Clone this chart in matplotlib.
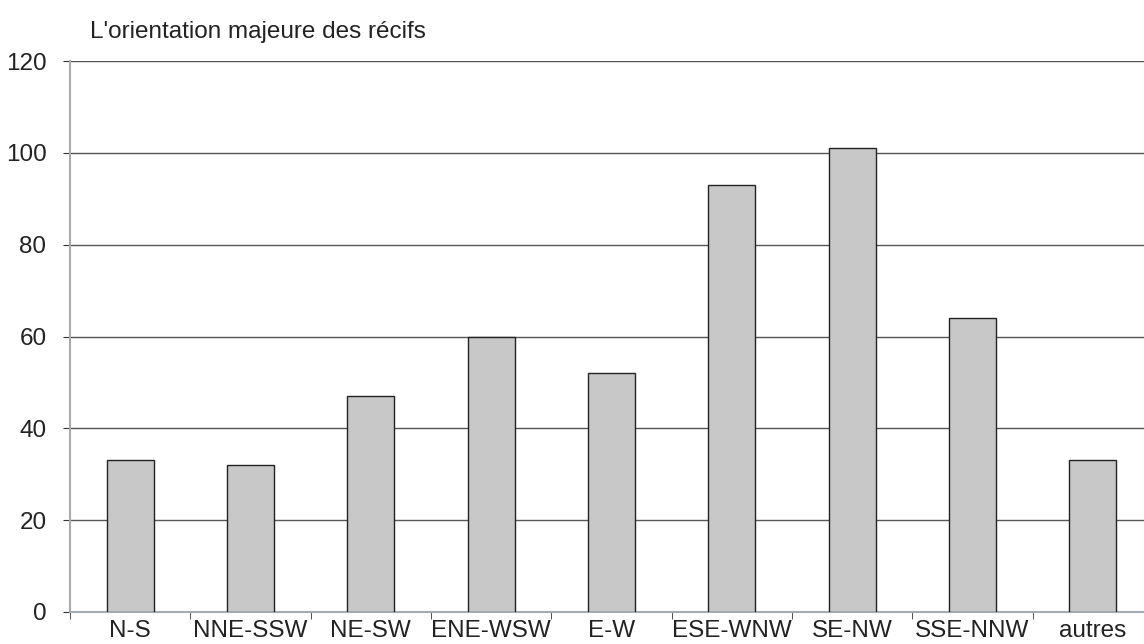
import numpy as np
import matplotlib as mpl

mpl.use("Agg")
import matplotlib.pyplot as plt

categories = ["N-S", "NNE-SSW", "NE-SW", "ENE-WSW", "E-W",
              "ESE-WNW", "SE-NW", "SSE-NNW", "autres"]
counts = [33, 32, 47, 60, 52, 93, 101, 64, 33]
y_ticks = [0, 20, 40, 60, 80, 100, 120]

W, H = 1144, 644
fig = plt.figure(figsize=(W / 100, H / 100), dpi=100)
plt.rcParams["font.family"] = ["Liberation Sans", "DejaVu Sans"]

# axes: left 70px, bottom 612px, top 61px, right edge runs off the canvas
left, right, top, bottom = 70, 1153, 61, 612
ax = fig.add_axes([left / W, (H - bottom) / H, (right - left) / W, (bottom - top) / H])

x = np.arange(len(categories))
ax.bar(x, counts, width=0.39, color="#c8c8c8", edgecolor="#222222",
       linewidth=1.0, zorder=3)

fs = 17.5
ax.set_xlim(-0.5, len(categories) - 0.5)
ax.set_ylim(0, 120)
ax.set_yticks(y_ticks)
ax.set_yticklabels([str(v) for v in y_ticks], fontsize=fs, color="#222222")
ax.yaxis.grid(True, color="#555555", linewidth=1.0, zorder=0)

ax.set_xticks(x)
ax.set_xticklabels(categories, fontsize=fs, color="#222222")
ax.tick_params(axis="x", length=0, pad=6)
ax.set_xticks(np.arange(-0.5, len(categories) - 0.5, 1.0), minor=True)
ax.tick_params(axis="x", which="minor", length=5, color="#333333", direction="out")
ax.tick_params(axis="y", length=5, color="#333333", pad=12)

for s in ["top", "right"]:
    ax.spines[s].set_visible(False)
ax.spines["left"].set_color("#a3abb3")
ax.spines["left"].set_linewidth(1.5)
ax.spines["bottom"].set_color("#a3abb3")
ax.spines["bottom"].set_linewidth(1.5)

fig.text(90 / W, 1 - 32 / H, "L'orientation majeure des récifs",
         fontsize=fs, va="center", ha="left", color="#222222")

fig.savefig("out.png", dpi=100)
plt.close()
